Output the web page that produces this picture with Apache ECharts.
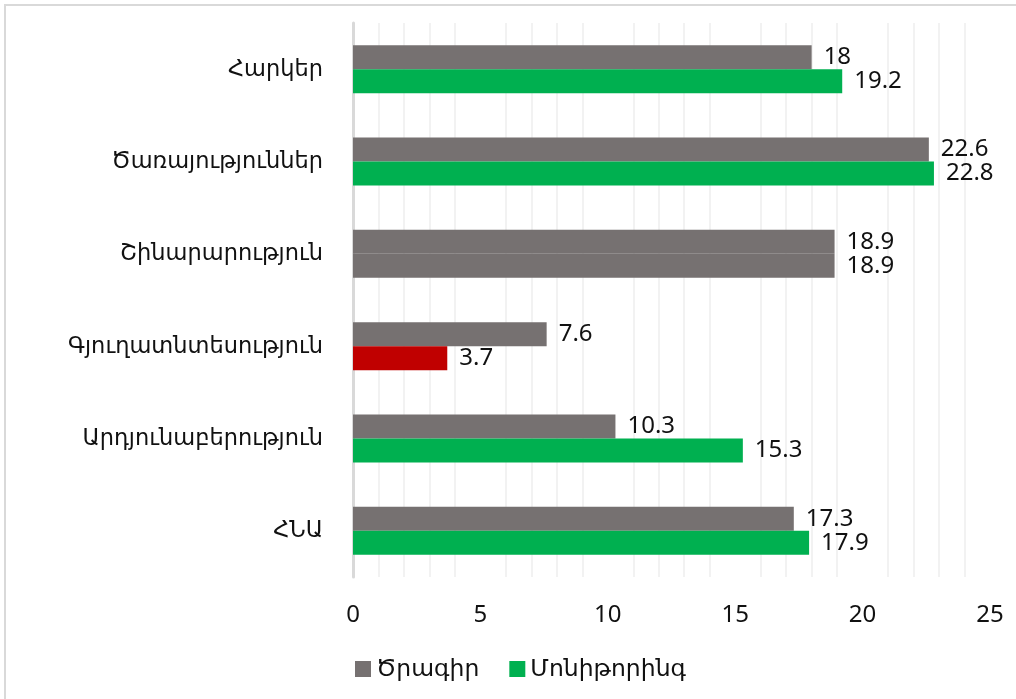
<!DOCTYPE html>
<html>
<head>
<meta charset="utf-8">
<script src="https://cdn.jsdelivr.net/npm/echarts@6/dist/echarts.min.js"></script>
<style>
  html, body { margin: 0; padding: 0; background: #fff; }
  #wrap { position: relative; width: 1016px; height: 699px; }
  #chart { width: 1016px; height: 699px; }
  #frame {
    position: absolute; left: 4px; top: 4px; right: -10px; bottom: -10px;
    border: 2px solid #d9d9d9; pointer-events: none;
  }
</style>
</head>
<body>
<div id="wrap">
  <div id="chart"></div>
  <div id="frame"></div>
</div>
<script>
// categories, top to bottom
const categories = ["Հարկեր", "Ծառայություններ", "Շինարարություն", "Գյուղատնտեսություն", "Արդյունաբերություն", "ՀՆԱ"];
const planValues = [18, 22.6, 18.9, 7.6, 10.3, 17.3];
const monitoringValues = [19.2, 22.8, 18.9, 3.7, 15.3, 17.9];
const seriesNames = ["Ծրագիր", "Մոնիթորինգ"];
const xTicks = [0, 5, 10, 15, 20, 25];

const GRAY = "#767171";
const GREEN = "#00B050";
// single bars that are painted differently in the source
const monitoringColorOverride = {
  "Շինարարություն": GRAY,
  "Գյուղատնտեսություն": "#C00000"
};

const FONT = "'Noto Sans', 'DejaVu Sans', sans-serif";
const chart = echarts.init(document.getElementById("chart"));

const labelStyle = {
  show: true,
  position: "right",
  distance: 12,
  color: "#111",
  fontSize: 24,
  fontFamily: FONT
};

const option = {
  animation: false,
  textStyle: { fontFamily: FONT },
  legend: {
    data: seriesNames,
    left: 350,
    top: 652,
    itemWidth: 16,
    itemHeight: 16,
    itemGap: 30,
    icon: "rect",
    textStyle: { color: "#111", fontSize: 23.5, fontFamily: FONT }
  },
  grid: { left: 353, right: 26, top: 23, bottom: 122 },
  xAxis: {
    type: "value",
    min: xTicks[0],
    max: xTicks[xTicks.length - 1],
    interval: 5,
    axisLine: { show: false },
    axisTick: { show: false },
    axisLabel: { color: "#111", fontSize: 24, margin: 26, fontFamily: FONT },
    splitLine: { show: false },
    minorTick: { show: false, splitNumber: 5 },
    minorSplitLine: { show: true, lineStyle: { color: "#f2f2f2", width: 2 } }
  },
  yAxis: {
    type: "category",
    inverse: true,
    data: categories,
    axisLine: { show: true, lineStyle: { color: "#d9d9d9", width: 3 } },
    axisTick: { show: false },
    axisLabel: { color: "#111", fontSize: 22.5, margin: 30, fontFamily: FONT }
  },
  series: [
    {
      name: seriesNames[0],
      type: "bar",
      data: planValues,
      itemStyle: { color: GRAY },
      barGap: "0%",
      barCategoryGap: "48%",
      label: labelStyle
    },
    {
      name: seriesNames[1],
      type: "bar",
      data: monitoringValues.map((v, i) => {
        const c = monitoringColorOverride[categories[i]];
        return c ? { value: v, itemStyle: { color: c } } : v;
      }),
      itemStyle: { color: GREEN },
      label: labelStyle
    }
  ]
};

chart.setOption(option);
window.addEventListener("resize", () => { chart && chart.resize(); });
</script>
</body>
</html>
